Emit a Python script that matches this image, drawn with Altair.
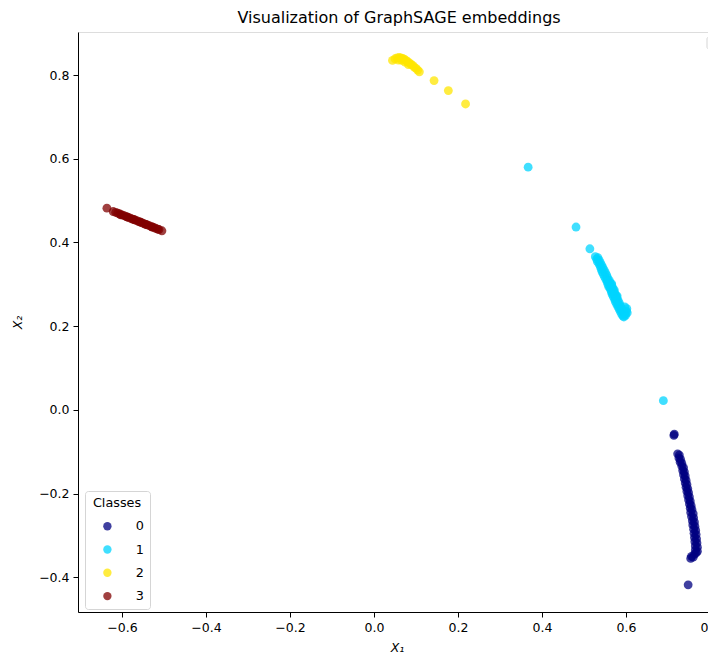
import altair as alt
import pandas as pd

# Class 0 (navy)
x0 = [0.714, 0.715, 0.723, 0.727, 0.726, 0.730, 0.729, 0.733, 0.733, 0.737, 0.735, 0.739,
      0.737, 0.741, 0.739, 0.743, 0.741, 0.745, 0.743, 0.747, 0.745, 0.749, 0.747, 0.751,
      0.749, 0.753, 0.751, 0.755, 0.753, 0.757, 0.754, 0.760, 0.756, 0.761, 0.758, 0.763,
      0.759, 0.764, 0.761, 0.766, 0.762, 0.767, 0.763, 0.768, 0.764, 0.769, 0.765, 0.770,
      0.765, 0.770, 0.763, 0.767, 0.756, 0.760, 0.754, 0.748]
y0 = [-0.061, -0.058, -0.105, -0.108, -0.115, -0.118, -0.125, -0.128, -0.135, -0.138, -0.145, -0.148,
      -0.155, -0.158, -0.165, -0.168, -0.175, -0.178, -0.185, -0.188, -0.195, -0.198, -0.205, -0.208,
      -0.215, -0.218, -0.225, -0.228, -0.235, -0.238, -0.245, -0.248, -0.255, -0.258, -0.265, -0.268,
      -0.275, -0.278, -0.285, -0.288, -0.295, -0.298, -0.305, -0.308, -0.315, -0.318, -0.325, -0.328,
      -0.335, -0.338, -0.345, -0.342, -0.350, -0.352, -0.355, -0.418]

# Class 1 (cyan)
x1 = [0.367, 0.481, 0.514, 0.689,
      0.527, 0.533, 0.530, 0.536, 0.532, 0.539, 0.536, 0.542, 0.539, 0.545, 0.541, 0.548,
      0.543, 0.551, 0.546, 0.554, 0.549, 0.556, 0.552, 0.560, 0.555, 0.562, 0.557, 0.566,
      0.559, 0.568, 0.563, 0.570, 0.565, 0.573, 0.567, 0.576, 0.570, 0.578, 0.573, 0.581,
      0.575, 0.584, 0.578, 0.586, 0.581, 0.589, 0.584, 0.592, 0.587, 0.595, 0.590, 0.598,
      0.593, 0.601, 0.595, 0.599,
      0.556, 0.562, 0.569, 0.575, 0.581, 0.588,
      0.603, 0.602, 0.597, 0.566, 0.572, 0.579]
y1 = [0.580, 0.437, 0.385, 0.022,
      0.366, 0.364, 0.360, 0.358, 0.354, 0.352, 0.348, 0.346, 0.342, 0.340, 0.336, 0.334,
      0.330, 0.328, 0.324, 0.322, 0.318, 0.316, 0.312, 0.310, 0.306, 0.304, 0.300, 0.298,
      0.294, 0.292, 0.288, 0.286, 0.282, 0.280, 0.276, 0.274, 0.270, 0.268, 0.264, 0.262,
      0.258, 0.256, 0.252, 0.250, 0.246, 0.244, 0.240, 0.238, 0.234, 0.232, 0.228, 0.230,
      0.224, 0.236, 0.222, 0.226,
      0.309, 0.293, 0.279, 0.266, 0.252, 0.239,
      0.232, 0.242, 0.246, 0.301, 0.287, 0.272]

# Class 2 (yellow)
x2 = [0.044, 0.050, 0.055, 0.060, 0.064, 0.068, 0.072, 0.076, 0.080, 0.084, 0.088, 0.092,
      0.096, 0.100, 0.104, 0.108, 0.058, 0.066, 0.074, 0.082, 0.143, 0.177, 0.218]
y2 = [0.835, 0.839, 0.841, 0.842, 0.841, 0.840, 0.838, 0.835, 0.832, 0.829, 0.826, 0.823,
      0.819, 0.816, 0.812, 0.808, 0.836, 0.835, 0.831, 0.825, 0.787, 0.763, 0.731]

# Class 3 (dark red)
x3 = [-0.636, -0.621, -0.615, -0.610, -0.605, -0.600, -0.595, -0.590, -0.585, -0.580, -0.575,
      -0.570, -0.565, -0.560, -0.555, -0.550, -0.545, -0.540, -0.535, -0.530, -0.525, -0.520,
      -0.515, -0.512, -0.505, -0.603, -0.588, -0.572, -0.557, -0.543, -0.528]
y3 = [0.482, 0.474, 0.472, 0.470, 0.468, 0.466, 0.464, 0.462, 0.460, 0.458, 0.456,
      0.454, 0.452, 0.450, 0.448, 0.446, 0.444, 0.442, 0.440, 0.438, 0.436, 0.434,
      0.432, 0.431, 0.428, 0.466, 0.461, 0.455, 0.449, 0.443, 0.437]

classes = ["0", "1", "2", "3"]
colors = ["#000080", "#00d4ff", "#ffe500", "#800000"]
x_ticks = [-0.6, -0.4, -0.2, 0.0, 0.2, 0.4, 0.6, 0.8]
y_ticks = [-0.4, -0.2, 0.0, 0.2, 0.4, 0.6, 0.8]

rows = []
for c, xs, ys in zip(classes, [x0, x1, x2, x3], [y0, y1, y2, y3]):
    for a, b in zip(xs, ys):
        rows.append({"X1": a, "X2": b, "cls": c})
df = pd.DataFrame(rows)

FONT = "DejaVu Sans"

axis_common = dict(
    labelFont=FONT, labelFontSize=12.5, labelColor="black",
    titleFont=FONT, titleFontSize=12.5, titleFontWeight="normal", titleColor="black",
    titleFontStyle="italic",
    tickColor="black", tickSize=5, domainColor="black", grid=False,
    labelPadding=4, format=".1f",
)

points = alt.Chart(df).mark_circle(size=78, opacity=0.75).encode(
    x=alt.X("X1:Q",
            scale=alt.Scale(domain=[-0.7048, 0.8143], nice=False, zero=False),
            axis=alt.Axis(values=x_ticks, title="X₁", titlePadding=8, **axis_common)),
    y=alt.Y("X2:Q",
            scale=alt.Scale(domain=[-0.483, 0.903], nice=False, zero=False),
            axis=alt.Axis(values=y_ticks, title="X₂", titlePadding=14, **axis_common)),
    color=alt.Color("cls:N",
                    scale=alt.Scale(domain=classes, range=colors),
                    legend=alt.Legend(
                        title="Classes", orient="none", legendX=7, legendY=459,
                        fillColor="white", strokeColor="#d5d5d5", cornerRadius=3,
                        padding=6, titleFont=FONT, titleFontSize=12.8,
                        titleFontWeight="normal", titleColor="black",
                        titleAnchor="middle", titlePadding=10,
                        labelFont=FONT, labelFontSize=12.8,
                        labelColor="black", symbolType="circle", symbolSize=70,
                        symbolOpacity=0.75, symbolStrokeWidth=0, rowPadding=9.3,
                        labelOffset=22, symbolOffset=10)),
    order=alt.Order("cls:N"),
)

empty_box = alt.Chart(pd.DataFrame({"a": [0]})).mark_rect(
    fill="white", stroke="#d5d5d5", cornerRadius=2, strokeWidth=1
).encode(x=alt.value(629), x2=alt.value(670), y=alt.value(5), y2=alt.value(17))

chart = alt.layer(points, empty_box).properties(
    width=638, height=580,
    title=alt.TitleParams("Visualization of GraphSAGE embeddings", font=FONT,
                          fontSize=16, fontWeight="normal", color="black",
                          offset=6, dx=2),
    autosize=alt.AutoSizeParams(type="none"),
    padding={"left": 70, "top": 24, "right": -8, "bottom": 46},
).configure_view(stroke="black", strokeWidth=1).configure(background="white")

chart.save("out.html", embed_options={"renderer": "svg", "actions": False})
